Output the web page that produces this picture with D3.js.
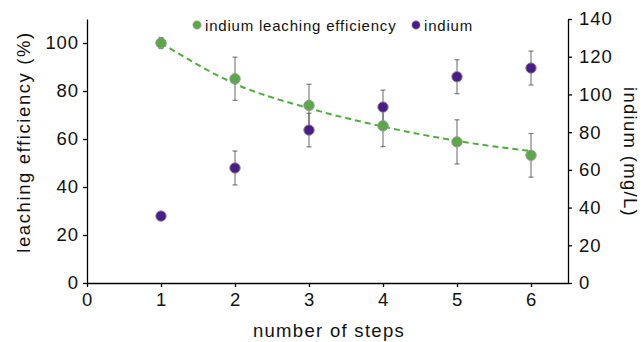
<!DOCTYPE html>
<html><head><meta charset="utf-8">
<script src="https://cdn.jsdelivr.net/npm/d3@7"></script>
<style>
body{margin:0;background:#fff;}
svg text{font-family:"Liberation Sans",Arial,sans-serif;fill:#111;}
</style></head>
<body><svg id="c" width="643" height="342"></svg>
<script>
const steps = [1, 2, 3, 4, 5, 6];
const efficiency = [100, 85.1, 74.0, 65.5, 58.8, 53.2];
const efficiencyErr = [2.3, 9.0, 8.8, 8.7, 9.2, 9.1];
const indium = [35.5, 61.0, 81.1, 93.3, 109.4, 114.0];
const indiumErr = [0.8, 9.0, 8.9, 9.0, 9.0, 9.0];
const trend = [100, 83.0, 72.8, 65.2, 59.2, 55.0];
const xTicks = [0, 1, 2, 3, 4, 5, 6];
const leftTicks = [0, 20, 40, 60, 80, 100];
const rightTicks = [0, 20, 40, 60, 80, 100, 120, 140];
const legendLabels = ["indium leaching efficiency", "indium"];

const green = "#5aa846", purple = "#4b1a8c", errCol = "#555";
const svg = d3.select("#c");
const L = 87, R = 568, T = 19, B = 283;
const x = d3.scaleLinear().domain([0, 6.5]).range([L, R]);
const yL = d3.scaleLinear().domain([0, 110]).range([B, T]);
const yR = d3.scaleLinear().domain([0, 140]).range([B, T]);
const fmt = d3.format("d");

function styleAxis(g){
  g.selectAll("path,line").attr("stroke","#000").attr("stroke-width",1.3);
  g.selectAll("text").attr("font-size","18.5px").attr("letter-spacing","0.9px").attr("fill","#111");
}
svg.append("g").attr("transform",`translate(0,${B})`)
  .call(d3.axisBottom(x).tickValues(xTicks).tickFormat(fmt).tickSize(4).tickSizeOuter(0).tickPadding(6))
  .call(styleAxis);
svg.append("g").attr("transform",`translate(${L},0)`)
  .call(d3.axisLeft(yL).tickValues(leftTicks).tickFormat(fmt).tickSize(4).tickSizeOuter(0).tickPadding(4))
  .call(styleAxis);
svg.append("g").attr("transform",`translate(${R},0)`)
  .call(d3.axisRight(yR).tickValues(rightTicks).tickFormat(fmt).tickSize(4).tickSizeOuter(0).tickPadding(7))
  .call(styleAxis);

// titles
svg.append("text").attr("x",329).attr("y",337).attr("text-anchor","middle")
  .attr("font-size","18.5px").attr("letter-spacing","1.3px").text("number of steps");
svg.append("text").attr("transform","translate(30,142) rotate(-90)").attr("text-anchor","middle")
  .attr("font-size","18.5px").attr("letter-spacing","1.6px").text("leaching efficiency (%)");
svg.append("text").attr("transform","translate(624,152) rotate(90)").attr("text-anchor","middle")
  .attr("font-size","18.5px").attr("letter-spacing","1.3px").text("indium (mg/L)");

// trend line
const line = d3.line().x((d,i)=>x(steps[i])).y(d=>yL(d)).curve(d3.curveMonotoneX);
svg.append("path").datum(trend).attr("d",line).attr("fill","none")
  .attr("stroke","#4fae3c").attr("stroke-width",2).attr("stroke-dasharray","6,4");

function errBars(vals, errs, scale){
  const g = svg.append("g").attr("stroke",errCol).attr("stroke-width",1.2).attr("stroke-opacity",0.75);
  vals.forEach((v,i)=>{
    const cx = x(steps[i]), y1 = scale(v+errs[i]), y0 = scale(v-errs[i]);
    g.append("line").attr("x1",cx).attr("x2",cx).attr("y1",y1).attr("y2",y0);
    g.append("line").attr("x1",cx-2.5).attr("x2",cx+2.5).attr("y1",y1).attr("y2",y1);
    g.append("line").attr("x1",cx-2.5).attr("x2",cx+2.5).attr("y1",y0).attr("y2",y0);
  });
}
errBars(efficiency, efficiencyErr, yL);
errBars(indium, indiumErr, yR);
svg.append("g").selectAll("circle").data(efficiency).join("circle")
  .attr("cx",(d,i)=>x(steps[i])).attr("cy",d=>yL(d)).attr("r",5.2)
  .attr("fill",green).attr("stroke","#999").attr("stroke-width",1);
svg.append("g").selectAll("circle").data(indium).join("circle")
  .attr("cx",(d,i)=>x(steps[i])).attr("cy",d=>yR(d)).attr("r",5.2)
  .attr("fill",purple).attr("stroke","#888").attr("stroke-width",1);

// legend
const leg = [{c:green, x:197, tx:205},{c:purple, x:416, tx:424}];
leg.forEach((l,i)=>{
  svg.append("circle").attr("cx",l.x).attr("cy",25).attr("r",4.2).attr("fill",l.c).attr("stroke","#aaa").attr("stroke-width",0.6);
  svg.append("text").attr("x",l.tx).attr("y",30.5).attr("font-size","15px").attr("letter-spacing","0.8px").text(legendLabels[i]);
});
</script></body></html>
